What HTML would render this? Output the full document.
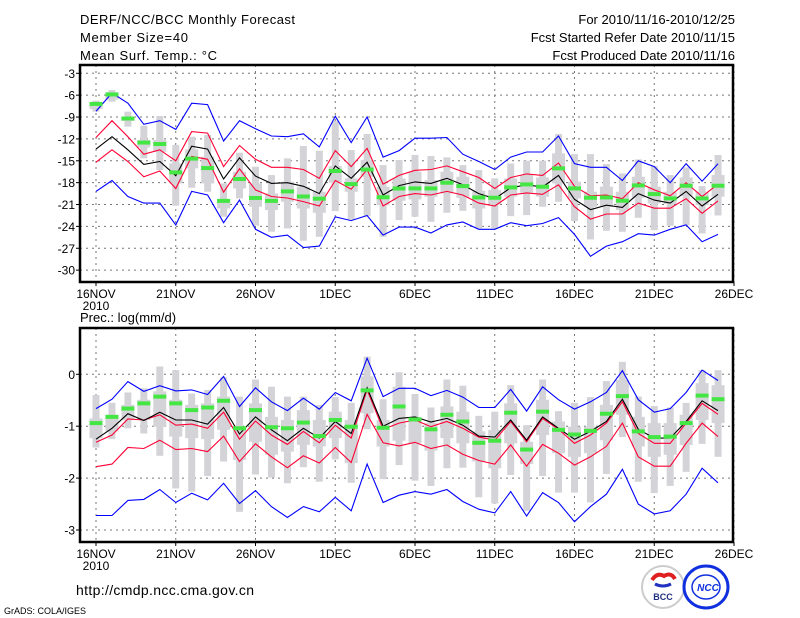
<!DOCTYPE html>
<html><head><meta charset="utf-8"><style>
body{margin:0;background:#fff}
svg{display:block;font-family:"Liberation Sans",sans-serif}
</style></head><body>
<svg id="chart" width="800" height="618" viewBox="0 0 800 618" xmlns="http://www.w3.org/2000/svg">
<rect width="800" height="618" fill="#fff"/>
<g id="hdr" font-size="13" fill="#000">
<text x="80" y="24" textLength="215">DERF/NCC/BCC Monthly Forecast</text>
<text x="80" y="42" textLength="108">Member Size=40</text>
<text x="80" y="60" textLength="137">Mean Surf. Temp.: °C</text>
<text x="735" y="24" text-anchor="end">For 2010/11/16-2010/12/25</text>
<text x="735" y="42" text-anchor="end">Fcst Started Refer Date 2010/11/15</text>
<text x="735" y="60" text-anchor="end">Fcst Produced Date 2010/11/16</text>
<text x="80" y="322">Prec.: log(mm/d)</text>
<text x="76" y="595" font-size="14" textLength="178">http://cmdp.ncc.cma.gov.cn</text>
<text x="4" y="614" font-size="9">GrADS: COLA/IGES</text>
</g>
<g>
<circle cx="663" cy="587" r="21" fill="#fff" stroke="#ccc" stroke-width="2"/>
<path d="M652 580 q5 -8 12 -4 q7 -4 11 3" fill="none" stroke="#e02020" stroke-width="4"/>
<path d="M655 584 q8 4 16 0" fill="none" stroke="#2030c0" stroke-width="3"/>
<text x="663" y="600" font-size="9" font-weight="bold" text-anchor="middle" fill="#203080">BCC</text>
</g>
<g>
<ellipse cx="706" cy="587" rx="22" ry="21" fill="#fff" stroke="#1030e0" stroke-width="3"/>
<ellipse cx="706" cy="587" rx="14" ry="12" fill="none" stroke="#1030e0" stroke-width="1.5"/>
<text x="708" y="591" font-size="10" font-weight="bold" font-style="italic" text-anchor="middle" fill="#1030e0">NCC</text>
</g>
</svg>
<script>
// ---- Temperature panel data ----
const days = ["16NOV","21NOV","26NOV","1DEC","6DEC","11DEC","16DEC","21DEC","26DEC"];
const tTicks = [-3,-6,-9,-12,-15,-18,-21,-24,-27,-30];
const tMean = [-13.4,-11.7,-13.5,-15.5,-15.1,-17.05,-13.0,-13.4,-17.5,-14.6,-17.1,-18.1,-18.0,-18.5,-19.5,-15.7,-17.4,-15.2,-19.7,-18.4,-17.9,-18.1,-17.4,-18.3,-19.5,-20.2,-18.7,-18.3,-18.6,-17.0,-20.3,-21.7,-21.1,-21.4,-19.5,-20.4,-20.8,-19.2,-21.2,-19.6];
const tRedHi = [-11.8,-9.5,-11.7,-14.1,-13.5,-15.0,-11.0,-11.2,-15.8,-12.9,-14.8,-15.9,-15.9,-16.2,-17.4,-13.6,-15.8,-13.3,-18.2,-17.0,-16.3,-16.2,-15.7,-16.5,-17.3,-18.8,-17.3,-16.8,-17.0,-15.3,-18.5,-19.8,-19.7,-20.2,-18.0,-19.0,-19.8,-18.0,-19.9,-18.2];
const tRedLo = [-15.2,-13.5,-15.1,-17.2,-16.4,-18.8,-14.4,-14.8,-19.3,-16.1,-19.0,-19.9,-20.1,-20.6,-21.2,-17.7,-18.9,-16.2,-21.2,-19.9,-19.5,-19.7,-19.2,-19.7,-20.8,-21.2,-19.7,-19.4,-19.6,-18.3,-21.3,-23.0,-22.3,-22.3,-20.8,-21.5,-21.5,-20.2,-22.2,-20.5];
const tBlueHi = [-8.2,-5.7,-7.1,-10.0,-9.5,-10.7,-7.1,-7.3,-12.3,-9.5,-10.6,-11.6,-11.7,-11.3,-13.1,-8.9,-12.5,-9.0,-14.5,-13.6,-11.9,-11.9,-11.8,-14.1,-15.1,-16.2,-14.5,-13.8,-13.8,-11.6,-15.4,-15.9,-15.9,-17.7,-15.0,-15.8,-18.0,-15.4,-17.8,-15.4];
const tBlueLo = [-19.2,-17.7,-19.9,-20.8,-20.8,-23.8,-19.2,-19.7,-23.5,-20.4,-24.4,-25.5,-25.2,-26.9,-26.7,-22.7,-23.2,-22.5,-25.2,-24.1,-24.1,-24.9,-23.8,-23.4,-24.4,-24.4,-23.5,-23.9,-23.6,-22.8,-25.1,-28.1,-26.7,-26.1,-25.0,-25.2,-24.4,-23.8,-26.1,-25.1];
const tMax = [-6.75,-5.3,-8.26,-10.19,-8.86,-12.84,-11.7,-11.47,-18.1,-13.89,-15.81,-16.96,-14.67,-12.98,-13.62,-9.54,-13.53,-11.33,-15.59,-14.9,-14.21,-14.35,-14.53,-15.59,-16.27,-17.42,-15.36,-14.99,-14.99,-11.33,-14.08,-14.08,-15.45,-16.73,-14.81,-15.72,-16.96,-15.91,-18.47,-14.21];
const tMin = [-8.26,-6.89,-10.32,-14.67,-16.27,-21.17,-18.7,-19.25,-22.68,-20.16,-23.9,-24.74,-24.28,-25.97,-25.43,-21.9,-23.05,-22.59,-25.43,-23.14,-22.68,-23.37,-22.13,-21.86,-24.28,-24.28,-22.59,-22.45,-21.31,-20.62,-23.27,-25.79,-24.6,-24.74,-22.82,-24.51,-23.92,-23.82,-24.97,-22.5];
const tQ3 = [-7.0,-5.6,-8.95,-12.15,-12.15,-15.36,-13.43,-14.44,-20.39,-16.5,-18.1,-19.48,-17.87,-18.56,-19.25,-15.72,-17.42,-14.9,-18.56,-17.42,-16.5,-17.65,-16.5,-17.19,-19.11,-19.02,-17.42,-16.96,-17.28,-13.98,-17.87,-19.25,-18.56,-19.25,-17.19,-18.56,-19.25,-17.28,-19.25,-16.96];
const tQ1 = [-7.9,-6.6,-9.54,-13.16,-13.76,-18.1,-16.04,-18.1,-21.54,-18.79,-21.31,-21.76,-20.62,-21.54,-22.13,-18.01,-19.25,-17.19,-21.08,-20.48,-20.3,-19.93,-19.48,-20.07,-21.54,-20.94,-19.93,-19.38,-19.93,-18.1,-20.16,-21.31,-21.31,-21.76,-20.07,-20.85,-20.94,-19.84,-21.08,-19.93];
const tObs = [-7.2,-5.9,-9.2,-12.5,-12.7,-16.6,-14.7,-16.0,-20.5,-17.5,-20.1,-20.5,-19.2,-19.9,-20.2,-16.4,-18.2,-16.2,-20.0,-18.8,-18.79,-18.79,-18.01,-18.47,-20.03,-20.07,-18.65,-18.24,-18.56,-16.04,-18.79,-20.07,-20.03,-20.48,-18.38,-19.57,-20.16,-18.42,-20.16,-18.42];
// ---- Precipitation panel data ----
const pTicks = [0,-1,-2,-3];
const pMean = [-1.25,-1.04,-0.76,-0.89,-0.73,-0.88,-0.88,-0.96,-0.64,-1.15,-0.82,-1.07,-1.28,-1.04,-1.23,-0.91,-1.14,-0.26,-1.0,-0.85,-0.82,-0.92,-0.85,-0.98,-1.19,-1.21,-0.88,-1.27,-0.82,-1.04,-1.25,-1.1,-0.91,-0.48,-1.06,-1.23,-1.23,-0.91,-0.51,-0.7];
const pRedHi = [-1.31,-1.17,-0.86,-0.88,-0.78,-0.98,-0.96,-1.04,-0.73,-1.25,-0.9,-1.17,-1.35,-1.1,-1.32,-0.98,-1.23,-0.3,-1.06,-0.94,-0.88,-1.01,-0.91,-1.04,-1.21,-1.27,-0.91,-1.3,-0.85,-1.06,-1.33,-1.17,-0.94,-0.53,-1.14,-1.33,-1.33,-0.94,-0.56,-0.77];
const pRedLo = [-1.78,-1.73,-1.41,-1.43,-1.27,-1.45,-1.43,-1.49,-1.19,-1.68,-1.34,-1.59,-1.8,-1.57,-1.71,-1.41,-1.7,-0.77,-1.32,-1.38,-1.31,-1.43,-1.36,-1.54,-1.66,-1.73,-1.36,-1.77,-1.35,-1.52,-1.75,-1.59,-1.39,-0.94,-1.59,-1.77,-1.77,-1.33,-0.94,-1.2];
const pBlueHi = [-0.66,-0.48,-0.14,-0.33,-0.22,-0.32,-0.3,-0.39,-0.04,-0.62,-0.26,-0.53,-0.7,-0.46,-0.67,-0.35,-0.51,0.31,-0.43,-0.27,-0.27,-0.41,-0.31,-0.44,-0.64,-0.64,-0.29,-0.71,-0.24,-0.49,-0.67,-0.53,-0.35,0.07,-0.49,-0.73,-0.66,-0.35,0.08,-0.12];
const pBlueLo = [-2.72,-2.72,-2.43,-2.41,-2.22,-2.47,-2.29,-2.42,-2.1,-2.49,-2.24,-2.55,-2.76,-2.55,-2.65,-2.37,-2.63,-1.73,-2.47,-2.33,-2.26,-2.31,-2.22,-2.45,-2.6,-2.67,-2.26,-2.73,-2.28,-2.47,-2.84,-2.55,-2.31,-1.83,-2.5,-2.69,-2.63,-2.31,-1.81,-2.09];
const pMax = [-0.4,-0.55,-0.35,-0.27,0.15,0.08,-0.37,-0.3,-0.06,-0.43,-0.1,-0.24,-0.43,-0.43,-0.59,-0.44,-0.55,0.34,-0.48,0.04,-0.38,-0.64,-0.1,-0.22,-0.8,-0.72,-0.21,-0.98,-0.1,-0.71,-0.55,-0.44,-0.13,0.24,-0.43,-0.61,-0.64,-0.55,0.08,0.08];
const pMin = [-1.41,-1.25,-1.04,-1.14,-1.57,-2.2,-2.26,-1.96,-1.68,-2.65,-1.93,-1.99,-2.1,-1.79,-2.07,-1.64,-2.09,-1.06,-2.02,-1.75,-2.05,-2.15,-1.81,-1.8,-2.37,-2.49,-1.94,-2.63,-1.96,-2.28,-2.28,-2.47,-1.92,-1.21,-2.07,-2.29,-2.15,-1.88,-1.34,-1.59];
const pQ3 = [-0.85,-0.78,-0.59,-0.49,-0.33,-0.49,-0.59,-0.56,-0.43,-1.01,-0.56,-0.82,-0.88,-0.69,-0.88,-0.72,-0.88,-0.04,-0.88,-0.24,-0.82,-0.94,-0.62,-0.72,-1.1,-1.07,-0.56,-1.3,-0.49,-0.91,-1.01,-1.01,-0.59,-0.11,-0.82,-0.94,-0.94,-0.78,-0.17,-0.21];
const pQ1 = [-1.23,-1.1,-0.88,-0.88,-1.01,-1.2,-1.23,-1.25,-1.07,-1.65,-1.3,-1.55,-1.49,-1.36,-1.39,-1.23,-1.71,-0.75,-1.39,-1.28,-1.33,-1.47,-1.23,-1.33,-1.68,-1.81,-1.33,-1.73,-1.17,-1.52,-1.59,-1.52,-1.27,-0.78,-1.39,-1.59,-1.55,-1.36,-0.88,-0.94];
const pObs = [-0.94,-0.82,-0.66,-0.56,-0.43,-0.56,-0.69,-0.64,-0.51,-1.04,-0.69,-1.02,-1.04,-0.93,-1.19,-0.88,-1.01,-0.31,-1.03,-0.62,-0.87,-1.06,-0.78,-0.91,-1.32,-1.28,-0.74,-1.45,-0.72,-1.07,-1.16,-1.09,-0.76,-0.42,-1.1,-1.21,-1.2,-0.94,-0.41,-0.48];

const NS = "http://www.w3.org/2000/svg";
const svg = document.getElementById("chart");
const xs = i => 96 + 15.95 * i;
const yT = v => 73.3 + (-3 - v) * 21.87 / 3;
const yB = v => 374.3 - v * 51.9;

function mk(tag, attrs, parent) {
  const e = document.createElementNS(NS, tag);
  for (const k in attrs) e.setAttribute(k, attrs[k]);
  (parent || svg).appendChild(e);
  return e;
}

function panel(top, bot, ys, ticks, name, d) {
  const g = mk("g", {});
  
  
  ticks.forEach(t => {
    const gl = mk("line", {x1: 80, x2: 733, y1: ys(t), y2: ys(t), stroke: "#777", "stroke-width": 1, "stroke-dasharray": "2,4"}, g);
    
    
    const tl = mk("text", {x: 75, y: ys(t) + 4.5, "font-size": 12, "text-anchor": "end"}, g);
    tl.textContent = String(t);
    
    
    mk("line", {x1: 76, x2: 80, y1: ys(t), y2: ys(t), stroke: "#000"}, g);
  });
  days.forEach((lab, k) => {
    const x = xs(k * 5);
    const gl = mk("line", {x1: x, x2: x, y1: top, y2: bot, stroke: "#777", "stroke-width": 1, "stroke-dasharray": "2,4"}, g);
    
    
    mk("line", {x1: x, x2: x, y1: bot, y2: bot + 4, stroke: "#000"}, g);
    const tl = mk("text", {x: x, y: bot + 16, "font-size": 12, "text-anchor": "middle"}, g);
    tl.textContent = lab;
    
    
  });
  const yr = mk("text", {x: 96, y: bot + 28, "font-size": 12, "text-anchor": "middle"}, g);
  yr.textContent = "2010";
  
  
  for (let i = 0; i < d.max.length; i++) {
    const x = xs(i);
    const w = mk("rect", {x: x - 3.5, y: ys(d.max[i]), width: 7, height: ys(d.min[i]) - ys(d.max[i]), fill: "#d4d4d8"}, g);
    
    
    const b = mk("rect", {x: x - 6.5, y: ys(d.q3[i]), width: 13, height: ys(d.q1[i]) - ys(d.q3[i]), fill: "#d4d4d8"}, g);
    
    
  }
  const line = (arr, col, nm) => {
    const p = mk("polyline", {points: arr.map((v, i) => xs(i).toFixed(1) + "," + ys(v).toFixed(1)).join(" "), fill: "none", stroke: col, "stroke-width": 1.1}, g);
    
    
  };
  line(d.bh, "#0000ff", name + '-max-line');
  line(d.bl, "#0000ff", name + '-min-line');
  line(d.rh, "#ff0033", name + '-upper-sd-line');
  line(d.rl, "#ff0033", name + '-lower-sd-line');
  line(d.mean, "#000", name + '-mean-line');
  for (let i = 0; i < d.obs.length; i++) {
    const o = mk("rect", {x: xs(i) - 6.5, y: ys(d.obs[i]) - 2, width: 13, height: 4, fill: "#44e644"}, g);
    
    
  }
  const fr = mk("rect", {x: 80, y: top, width: 653, height: bot - top, fill: "none", stroke: "#000", "stroke-width": 2.5}, g);
  
  
}

panel(65, 282, yT, tTicks, "temperature", {mean: tMean, rh: tRedHi, rl: tRedLo, bh: tBlueHi, bl: tBlueLo, max: tMax, min: tMin, q3: tQ3, q1: tQ1, obs: tObs});
panel(328, 542, yB, pTicks, "precipitation", {mean: pMean, rh: pRedHi, rl: pRedLo, bh: pBlueHi, bl: pBlueLo, max: pMax, min: pMin, q3: pQ3, q1: pQ1, obs: pObs});
</script>
</body></html>
